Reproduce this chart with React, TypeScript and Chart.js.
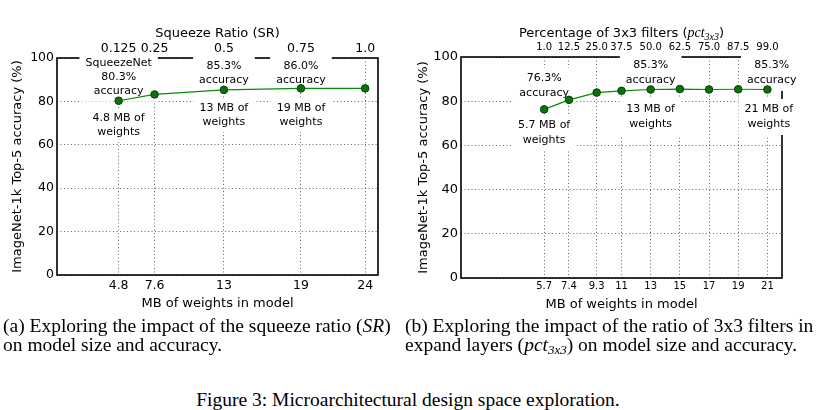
import React, { useEffect, useRef } from "react";
import { Chart, registerables } from "chart.js";

Chart.register(...registerables);

// ---------- data: (a) squeeze ratio ----------
const srModelMB = [4.8, 7.6, 13, 19, 24];
const srAccuracy = [80.3, 83.2, 85.3, 86.0, 86.0];
const srBottomTickLabels = ["4.8", "7.6", "13", "19", "24"];
const srTopTickLabels = ["0.125", "0.25", "0.5", "0.75", "1.0"];

// ---------- data: (b) percentage of 3x3 filters ----------
const pctModelMB = [5.7, 7.4, 9.3, 11, 13, 15, 17, 19, 21];
const pctAccuracy = [76.3, 80.6, 83.9, 84.7, 85.3, 85.5, 85.3, 85.4, 85.3];
const pctBottomTickLabels = ["5.7", "7.4", "9.3", "11", "13", "15", "17", "19", "21"];
const pctTopTickLabels = ["1.0", "12.5", "25.0", "37.5", "50.0", "62.5", "75.0", "87.5", "99.0"];

const accuracyTicks = [0, 20, 40, 60, 80, 100];

// text notes anchored at (MB, accuracy) data coordinates
const srNotes = [
  { x: 4.8, y: 91, lines: ["SqueezeNet", "80.3%", "accuracy"] },
  { x: 4.8, y: 69, lines: ["4.8 MB of", "weights"] },
  { x: 13, y: 93.2, lines: ["85.3%", "accuracy"] },
  { x: 13, y: 73.8, lines: ["13 MB of", "weights"] },
  { x: 19, y: 93.2, lines: ["86.0%", "accuracy"] },
  { x: 19, y: 73.8, lines: ["19 MB of", "weights"] },
];
const pctNotes = [
  { x: 5.7, y: 87, lines: ["76.3%", "accuracy"] },
  { x: 5.7, y: 65.6, lines: ["5.7 MB of", "weights"] },
  { x: 13, y: 92.8, lines: ["85.3%", "accuracy"] },
  { x: 13, y: 72.85, lines: ["13 MB of", "weights"] },
  { x: 21.3, y: 92.8, lines: ["85.3%", "accuracy"] },
  { x: 21.1, y: 72.85, lines: ["21 MB of", "weights"] },
];

const SANS = "DejaVu Sans";
const GRID = "rgba(0,0,0,0.6)";

type Seg = { text: string; font: string; dy?: number };

const decorPlugin = {
  id: "decor",
  beforeDatasetsDraw(chart: any, _a: any, opts: any) {
    const { ctx, chartArea: a, scales } = chart;
    ctx.save();
    ctx.strokeStyle = "#000";
    ctx.lineWidth = 1.6;
    ctx.strokeRect(a.left, a.top, a.right - a.left, a.bottom - a.top);
    ctx.font = `${opts.noteSize}px "${SANS}"`;
    ctx.fillStyle = "#fff";
    for (const n of opts.notes) {
      const px = scales.x.getPixelForValue(n.x);
      const py = scales.y.getPixelForValue(n.y);
      const w = Math.max(...n.lines.map((l: string) => ctx.measureText(l).width));
      const h = n.lines.length * opts.lineH;
      ctx.fillRect(px - w / 2 - opts.padX, py - h / 2 - opts.padY, w + 2 * opts.padX, h + 2 * opts.padY);
    }
    ctx.restore();
  },
  afterDatasetsDraw(chart: any, _a: any, opts: any) {
    const { ctx, chartArea: a, scales } = chart;
    ctx.save();
    ctx.font = `${opts.noteSize}px "${SANS}"`;
    ctx.fillStyle = "#000";
    ctx.textAlign = "center";
    ctx.textBaseline = "middle";
    for (const n of opts.notes) {
      const px = scales.x.getPixelForValue(n.x);
      const py = scales.y.getPixelForValue(n.y);
      const h = n.lines.length * opts.lineH;
      n.lines.forEach((l: string, i: number) => {
        ctx.fillText(l, px, py - h / 2 + opts.lineH * (i + 0.5));
      });
    }
    // top title (rich text)
    const segs: Seg[] = opts.title;
    let total = 0;
    const widths = segs.map((s) => {
      ctx.font = s.font;
      const w = ctx.measureText(s.text).width;
      total += w;
      return w;
    });
    let x = (a.left + a.right) / 2 - total / 2;
    ctx.textAlign = "left";
    ctx.textBaseline = "alphabetic";
    segs.forEach((s, i) => {
      ctx.font = s.font;
      ctx.fillText(s.text, x, opts.titleBaseline + (s.dy || 0));
      x += widths[i];
    });
    ctx.restore();
  },
};

function makeConfig(p: any) {
  const font = (size: number) => ({ family: SANS, size });
  return {
    type: "line",
    data: {
      datasets: [
        {
          data: p.xs.map((x: number, i: number) => ({ x, y: p.ys[i] })),
          borderColor: "#0c8a0c",
          borderWidth: 1.2,
          pointRadius: 3.8,
          pointBackgroundColor: "#0b720b",
          pointBorderColor: "#064206",
          pointBorderWidth: 1,
          tension: 0,
          fill: false,
        },
      ],
    },
    options: {
      responsive: false,
      animation: false,
      events: [],
      layout: { padding: { left: 0, top: 0, bottom: 0, right: p.rightPad } },
      plugins: {
        legend: { display: false },
        tooltip: { enabled: false },
        decor: {
          notes: p.notes,
          noteSize: 11,
          lineH: p.lineH,
          padX: 6,
          padY: 3,
          title: p.title,
          titleBaseline: p.titleBaseline,
        },
      },
      scales: {
        x: {
          type: "linear",
          position: "bottom",
          min: 0,
          max: p.xMax,
          afterBuildTicks: (s: any) => {
            s.ticks = p.xs.map((v: number) => ({ value: v }));
          },
          afterFit: (s: any) => {
            s.height = p.bottomH;
          },
          ticks: {
            autoSkip: false,
            maxRotation: 0,
            minRotation: 0,
            color: "#000",
            font: font(p.bottomTickSize),
            padding: p.bottomTickPad,
            callback: (_v: any, i: number) => p.bottomLabels[i],
          },
          grid: { color: GRID, lineWidth: 1, drawTicks: false },
          border: { display: false, dash: [1, 2.5] },
          title: {
            display: true,
            text: "MB of weights in model",
            color: "#000",
            font: font(13),
            padding: { top: 0, bottom: p.xTitlePad },
          },
        },
        x2: {
          type: "linear",
          position: "top",
          min: 0,
          max: p.xMax,
          afterBuildTicks: (s: any) => {
            s.ticks = p.xs.map((v: number) => ({ value: v }));
          },
          afterFit: (s: any) => {
            s.height = p.topH;
          },
          ticks: {
            autoSkip: false,
            maxRotation: 0,
            minRotation: 0,
            color: "#000",
            font: font(p.topTickSize),
            padding: p.topTickPad,
            callback: (_v: any, i: number) => p.topLabels[i],
          },
          grid: { display: false, drawTicks: false },
          border: { display: false },
        },
        y: {
          type: "linear",
          position: "left",
          min: 0,
          max: 100,
          afterBuildTicks: (s: any) => {
            s.ticks = accuracyTicks.map((v) => ({ value: v }));
          },
          afterFit: (s: any) => {
            s.width = p.yW;
          },
          ticks: { color: "#000", font: font(p.yTickSize), padding: 3 },
          grid: { color: GRID, lineWidth: 1, drawTicks: false },
          border: { display: false, dash: [1, 2.5] },
          title: {
            display: true,
            text: "ImageNet-1k Top-5 accuracy (%)",
            color: "#000",
            font: font(13),
            padding: { top: p.yTitlePad, bottom: 0 },
          },
        },
      },
    },
    plugins: [decorPlugin],
  };
}

function ChartCanvas({ cfg, left, width, height }: any) {
  const ref = useRef<HTMLCanvasElement | null>(null);
  useEffect(() => {
    const chart = new Chart(ref.current as HTMLCanvasElement, makeConfig(cfg) as any);
    return () => chart.destroy();
  }, []);
  return (
    <canvas
      ref={ref}
      width={width}
      height={height}
      style={{ position: "absolute", left, top: 0, width, height }}
    />
  );
}

const leftCfg = {
  xs: srModelMB,
  ys: srAccuracy,
  bottomLabels: srBottomTickLabels,
  topLabels: srTopTickLabels,
  notes: srNotes,
  xMax: 25,
  rightPad: 22,
  yW: 57,
  topH: 58,
  bottomH: 45,
  bottomTickSize: 12.5,
  topTickSize: 12.5,
  yTickSize: 12.5,
  bottomTickPad: 3,
  topTickPad: 1.5,
  xTitlePad: 9,
  yTitlePad: 10,
  lineH: 14,
  title: [{ text: "Squeeze Ratio (SR)", font: `13px "${SANS}"` }],
  titleBaseline: 36.5,
};

const rightCfg = {
  xs: pctModelMB,
  ys: pctAccuracy,
  bottomLabels: pctBottomTickLabels,
  topLabels: pctTopTickLabels,
  notes: pctNotes,
  xMax: 22,
  rightPad: 34,
  yW: 61,
  topH: 57,
  bottomH: 42,
  bottomTickSize: 10,
  topTickSize: 10,
  yTickSize: 13,
  bottomTickPad: 2.7,
  topTickPad: 3.3,
  xTitlePad: 8,
  yTitlePad: 15.5,
  lineH: 15,
  title: [
    { text: "Percentage of 3x3 filters (", font: `13px "${SANS}"` },
    { text: "pct", font: `italic 14px "Liberation Serif"` },
    { text: "3x3", font: `italic 10px "Liberation Serif"`, dy: 3 },
    { text: ")", font: `13px "${SANS}"` },
  ],
  titleBaseline: 37,
};

const capStyle: any = {
  position: "absolute",
  fontFamily: '"Liberation Serif", serif',
  fontSize: "19.5px",
  lineHeight: "19px",
  whiteSpace: "nowrap",
  color: "#000",
};
const subStyle: any = { fontSize: "13px", verticalAlign: "-3px", lineHeight: 0 };

export default function App() {
  return (
    <div style={{ position: "absolute", left: 0, top: 0, width: 816, height: 410, background: "#fff", overflow: "hidden" }}>
      <ChartCanvas cfg={leftCfg} left={0} width={400} height={320} />
      <ChartCanvas cfg={rightCfg} left={400} width={416} height={320} />
      <div style={{ ...capStyle, left: 3, top: 316 }}>
        (a) Exploring the impact of the squeeze ratio (<i>SR</i>)
        <br />
        on model size and accuracy.
      </div>
      <div style={{ ...capStyle, left: 405, top: 316 }}>
        (b) Exploring the impact of the ratio of 3x3 filters in
        <br />
        expand layers (<i>pct</i>
        <sub style={subStyle}>
          <i>3x3</i>
        </sub>
        ) on model size and accuracy.
      </div>
      <div style={{ ...capStyle, left: 0, width: 816, textAlign: "center", top: 390 }}>
        Figure 3: Microarchitectural design space exploration.
      </div>
    </div>
  );
}
